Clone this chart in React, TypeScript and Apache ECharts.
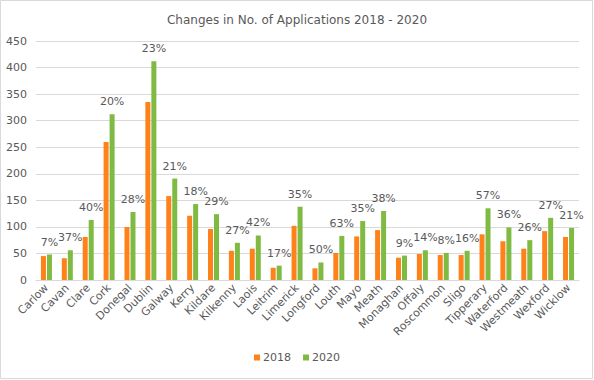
import React, { useEffect, useRef } from "react";
import * as echarts from "echarts";

const counties = ["Carlow","Cavan","Clare","Cork","Donegal","Dublin","Galway","Kerry","Kildare","Kilkenny","Laois","Leitrim","Limerick","Longford","Louth","Mayo","Meath","Monaghan","Offaly","Roscommon","Sligo","Tipperary","Waterford","Westmeath","Wexford","Wicklow"];
const apps2018 = [45,41,81,260,100,335,158,121,96,55,59,23,102,22,51,82,94,42,49,47,47,86,73,59,92,81];
const apps2020 = [48,56,113,312,128,412,191,143,124,70,84,27,138,33,83,111,130,46,56,51,55,135,99,75,117,98];
const changeLabels = ["7%","37%","40%","20%","28%","23%","21%","18%","29%","27%","42%","17%","35%","50%","63%","35%","38%","9%","14%","8%","16%","57%","36%","26%","27%","21%"];
const yTicks = { min: 0, max: 450, interval: 50 };

const FONT = "DejaVu Sans";
const TEXT = "#595959";

export default function App() {
  const ref = useRef<HTMLDivElement>(null);
  useEffect(() => {
    document.body.style.margin = "0";
    const chart = echarts.init(ref.current!, undefined, { renderer: "svg" });
    chart.setOption({
      animation: false,
      backgroundColor: "#ffffff",
      textStyle: { fontFamily: FONT, color: TEXT },
      title: {
        text: "Changes in No. of Applications 2018 - 2020",
        left: "center",
        top: 9,
        textStyle: { fontFamily: FONT, fontSize: 12, fontWeight: "normal", color: TEXT },
      },
      legend: {
        bottom: 12,
        left: "center",
        itemWidth: 6,
        itemHeight: 6,
        itemGap: 12,
        icon: "rect",
        textStyle: { fontFamily: FONT, fontSize: 11, color: TEXT, padding: [0, 0, 0, -2] },
        data: ["2018", "2020"],
      },
      graphic: [
        {
          type: "rect",
          shape: { x: 0.5, y: 0.5, width: 592, height: 378 },
          style: { fill: "none", stroke: "#d9d9d9", lineWidth: 1 },
          silent: true,
        },
      ],
      grid: { left: 36, right: 15, top: 41, bottom: 100, containLabel: false },
      xAxis: {
        type: "category",
        data: counties,
        axisLine: { lineStyle: { color: "#d9d9d9" } },
        axisTick: { show: false },
        axisLabel: { rotate: 45, fontFamily: FONT, fontSize: 11, color: TEXT, margin: 6, interval: 0 },
      },
      yAxis: {
        type: "value",
        min: yTicks.min,
        max: yTicks.max,
        interval: yTicks.interval,
        axisLine: { show: false },
        axisTick: { show: false },
        splitLine: { lineStyle: { color: "#d9d9d9" } },
        axisLabel: { fontFamily: FONT, fontSize: 11, color: TEXT, margin: 9 },
      },
      series: [
        {
          name: "2018",
          type: "bar",
          data: apps2018,
          barWidth: 5,
          barGap: "20%",
          itemStyle: { color: "#FF8119" },
        },
        {
          name: "2020",
          type: "bar",
          data: apps2020,
          barWidth: 5,
          barGap: "20%",
          itemStyle: { color: "#7FBA42" },
          label: {
            show: true,
            position: "top",
            distance: 7,
            fontFamily: FONT,
            fontSize: 11,
            color: TEXT,
            formatter: (p: any) => changeLabels[p.dataIndex],
          },
        },
      ],
    });
    return () => chart.dispose();
  }, []);
  return <div ref={ref} style={{ position: "fixed", left: 0, top: 0, width: 594, height: 380 }} />;
}
